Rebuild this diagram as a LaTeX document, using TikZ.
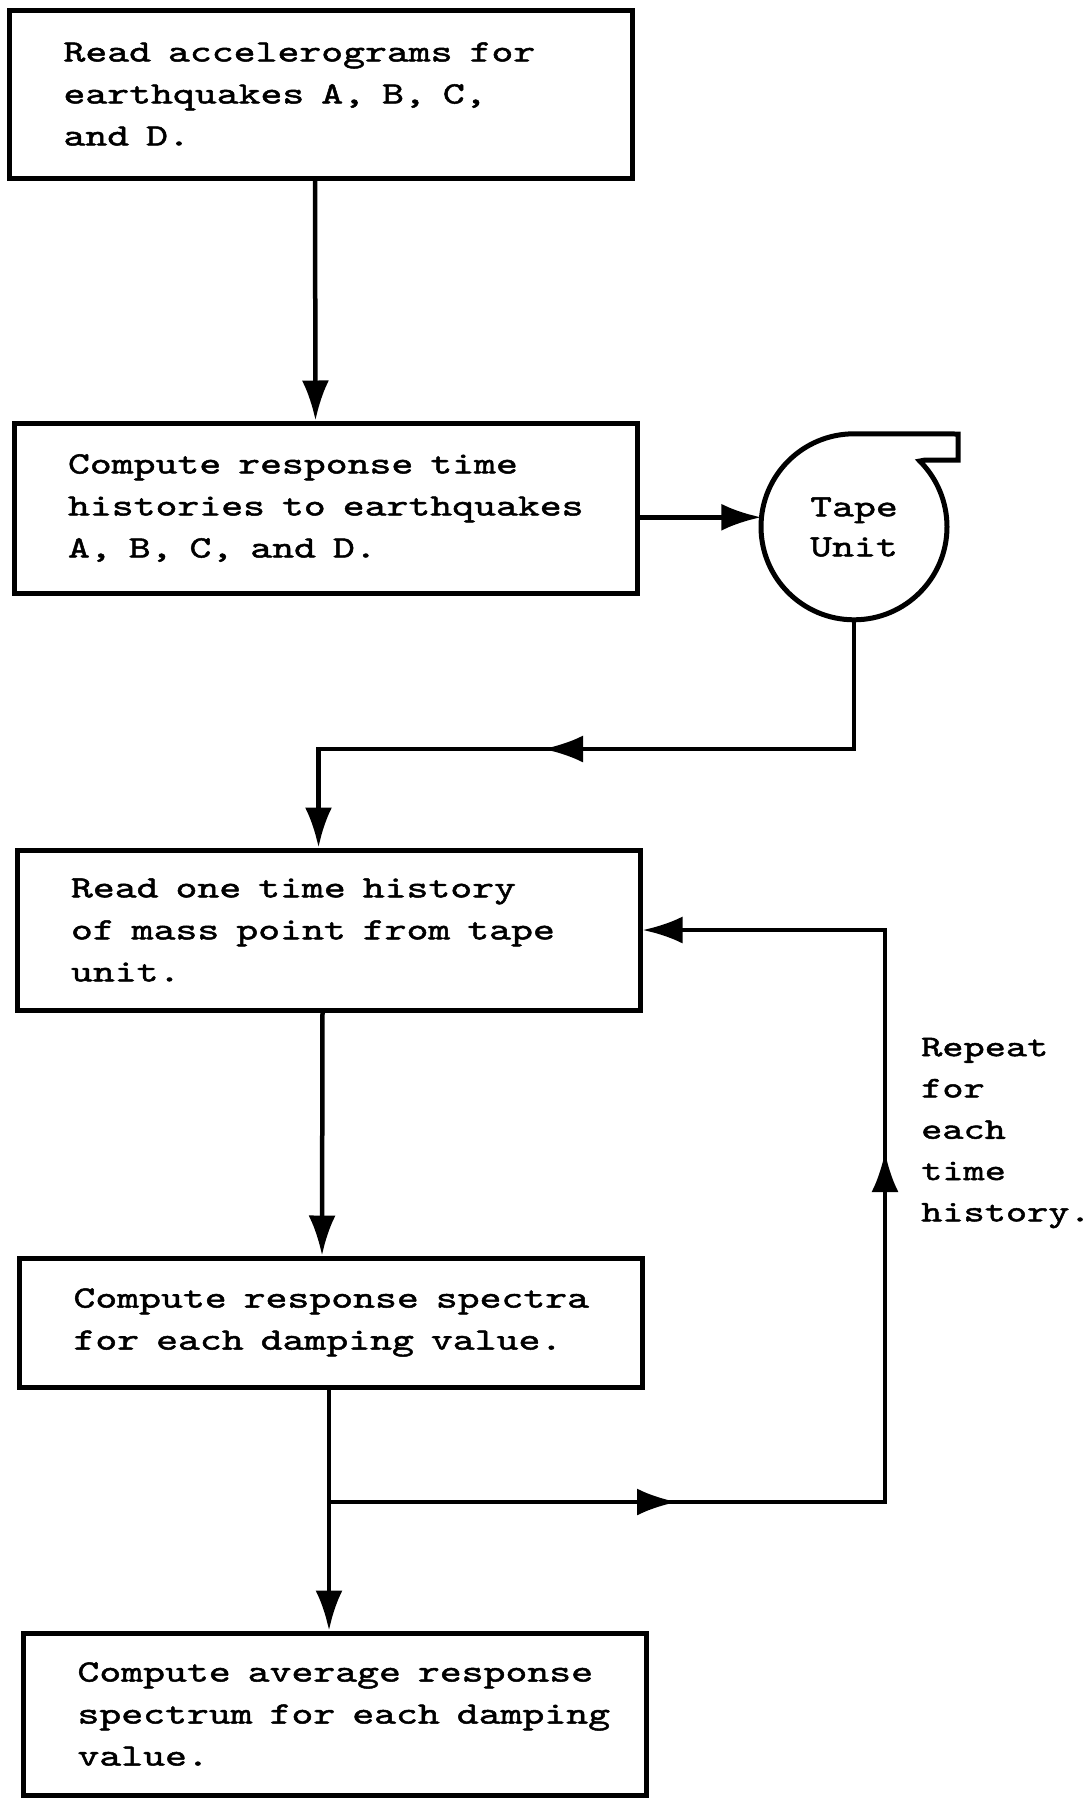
\documentclass[tikz,border=0pt]{standalone}
\usepackage{fontspec}
\newfontfamily\tw[FakeBold=1.6, FakeStretch=1.345]{lmmono10-regular.otf}
\usetikzlibrary{arrows.meta, shapes.geometric, positioning}

\begin{document}
\begin{tikzpicture}[
  x=1pt, y=-1pt,
  stepbox/.style={rectangle, draw=black, line width=5pt, minimum width=623pt, text width=603pt, inner xsep=10pt, inner ysep=0pt, align=left, execute at begin node={\leftskip=44pt\spaceskip=17pt}, font=\tw\fontsize{31}{42}\selectfont},
  tape/.style={circle, minimum size=186pt, inner sep=0pt, align=center, font=\tw\fontsize{31}{40}\selectfont},
  flow/.style={line width=4.5pt},
  >/.tip={Latex[length=40pt,width=27pt]}
]
\useasboundingbox (0,0) rectangle (1092,1799);

\node (B1) at (321,94) [stepbox, minimum height=168pt] {Read accelerograms for\\earthquakes A, B, C,\\and D.};
\node (B2) at (325.5,508) [stepbox, minimum height=170pt] {Compute response time\\histories to earthquakes\\A, B, C, and D.};
\node (T) at (854,527) [tape] {Tape\\Unit};
\node (B3) at (328.5,930) [stepbox, minimum height=160pt] {Read one time history\\of mass point from tape\\unit.};
\node (B4) at (331,1322.5) [stepbox, minimum height=129pt] {Compute response spectra\\for each damping value.};
\node (B5) at (335,1714) [stepbox, minimum height=162pt] {Compute average response\\spectrum for each damping\\value.};
\node (rep) at (921,1133) [anchor=west, align=left, inner sep=0pt, font=\tw\fontsize{30}{41.3}\selectfont] {Repeat\\for\\each\\time\\history.};

% tape reel
\draw [line width=5pt] (T.north) arc[start angle=90, end angle=405, radius=93pt] -- (925,460) -- (958,460) -- (958,434) -- cycle;

\coordinate (ret) at (543,749);
\coordinate (br) at (329,1502);
\coordinate (mr) at (677,1502);
\coordinate (mu) at (885,1152);

\draw [flow, ->] ([xshift=-6pt]B1.south) -- ([xshift=-10pt]B2.north);
\draw [flow, ->] (B2.east |- T.174) -- (T.174);
\draw [flow, ->] (T.south) |- (ret);
\draw [flow, ->] ([xshift=12pt]ret) -| ([xshift=-10pt]B3.north);
\draw [flow, ->] ([xshift=-6pt]B3.south) -- ([xshift=-9pt]B4.north);
\draw [flow, ->] ([xshift=-2pt]B4.south) -- ([xshift=-6pt]B5.north);

% loop back
\draw [flow, ->] (br) -- (mr);
\draw [flow, ->] ([xshift=-12pt]mr) -| (mu);
\draw [flow, ->] ([yshift=-12pt]mu) |- (B3.east);

\end{tikzpicture}
\end{document}
